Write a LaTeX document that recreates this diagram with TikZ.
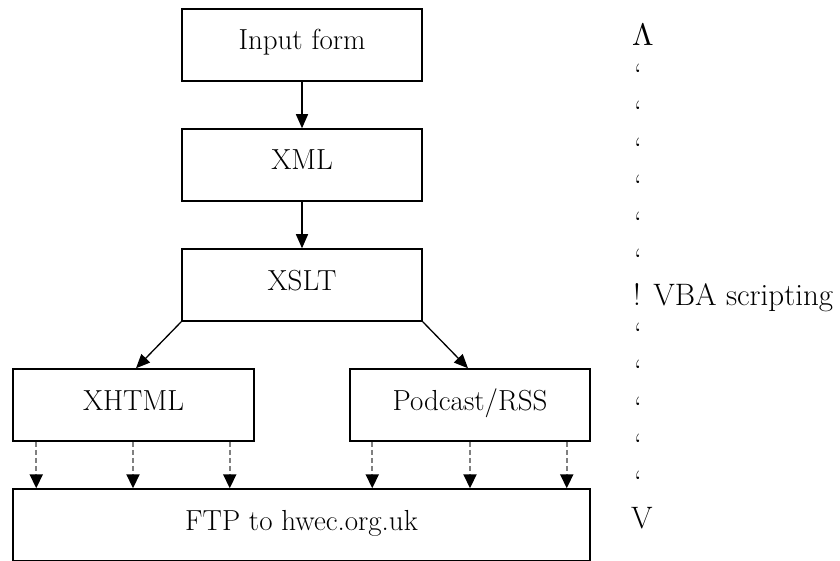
\documentclass[tikz,border=0pt]{standalone}
\usetikzlibrary{arrows.meta}
\begin{document}
\begin{tikzpicture}[x=1pt,y=-1pt,
  box/.style={draw=black,line width=1.5pt,rectangle,minimum height=72pt,inner sep=0pt,
    text height=18pt,text depth=8pt,font=\fontsize{29}{33}\selectfont},
  solidarrow/.style={draw=black,line width=1.3pt,-{Triangle[length=14pt,width=12pt]}},
  dasharrow/.style={draw=black!50,line width=2.2pt,dash pattern=on 5pt off 3pt,
    -{Triangle[length=14pt,width=13pt,color=black,fill=black]}},
  side/.style={anchor=base west,inner sep=0pt,font=\fontsize{31}{35}\selectfont}]
\useasboundingbox (0,0) rectangle (840,561);
\node[box,minimum width=240pt] (inp) at (302,45) {Input form};
\node[box,minimum width=240pt] (xml) at (302,165) {XML};
\node[box,minimum width=240pt] (xslt) at (302,285) {XSLT};
\node[box,minimum width=241pt] (xhtml) at (133.5,405) {XHTML};
\node[box,minimum width=240pt] (pod) at (470,405) {Podcast/RSS};
\node[box,minimum width=577pt] (ftp) at (301.5,525) {FTP to hwec.org.uk};
\draw[solidarrow] (inp) -- (xml);
\draw[solidarrow] (xml) -- (xslt);
\draw[solidarrow] (xslt.south west) -- ([xshift=2.5pt]xhtml.north);
\draw[solidarrow] (xslt.south east) -- ([xshift=-2pt]pod.north);
\coordinate (d1) at ([xshift=24pt]xhtml.south west);
\coordinate (d2) at ([xshift=-0.5pt]xhtml.south);
\coordinate (d3) at ([xshift=-25pt]xhtml.south east);
\coordinate (d4) at ([xshift=23pt]pod.south west);
\coordinate (d5) at (pod.south);
\coordinate (d6) at ([xshift=-24pt]pod.south east);
\foreach \d in {d1,d2,d3,d4,d5,d6}{
  \draw[dasharrow] (\d) -- (\d |- ftp.north);
}
% side column
\node[side] (up) at (632,46) {\fontsize{10}{12}\selectfont\scalebox{3.1}{$\Lambda$}};
\foreach \i in {1,...,6}{
  \node[side] (qa\i) at (634,{48+37.08*\i}) {`};
}
\node[side] (vba) at (633,305) {! VBA scripting};
\foreach \i in {8,...,12}{
  \node[side] (qb\i) at (634,{48+37.08*\i}) {`};
}
\node[side] (down) at (631,528) {V};
\end{tikzpicture}
\end{document}
